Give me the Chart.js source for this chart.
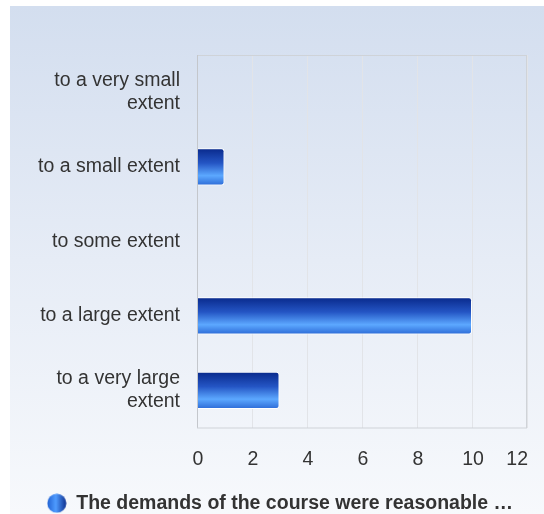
<!DOCTYPE html>
<html>
<head>
<meta charset="utf-8">
<script src="https://cdn.jsdelivr.net/npm/chart.js@4.4.1/dist/chart.umd.min.js"></script>
<style>
  html, body { margin: 0; padding: 0; background: #fff; }
  #wrap {
    position: absolute; left: 10px; top: 6px; width: 534px; height: 508px;
    background: linear-gradient(to bottom, #d3deef 0%, #e6ecf6 50%, #f7f9fc 100%);
  }
  canvas { display: block; }
</style>
</head>
<body>
<div id="wrap"><canvas id="bar-chart" width="534" height="508"></canvas></div>
<script>
/* answer categories and counts */
const categories = [
  ['to a very small', 'extent'],
  'to a small extent',
  'to some extent',
  'to a large extent',
  ['to a very large', 'extent']
];
const counts = [0, 1, 0, 10, 3];
const xTicks = [0, 2, 4, 6, 8, 10, 12];
const seriesLabel = 'The demands of the course were reasonable \u2026';

const FONT = '"Liberation Sans", Arial, sans-serif';
const FSIZE = 19.5;
const BAR_PCT = 0.5;

/* vertical gradient per bar */
function barFill(c) {
  const chart = c.chart;
  if (!chart.chartArea || !chart.scales.y) return '#2a6ad8';
  const y = chart.scales.y.getPixelForValue(c.dataIndex);
  const band = (chart.chartArea.bottom - chart.chartArea.top) / categories.length;
  const h = band * BAR_PCT;
  const g = chart.ctx.createLinearGradient(0, y - h / 2, 0, y + h / 2);
  g.addColorStop(0, '#08288a');
  g.addColorStop(0.4, '#2455c4');
  g.addColorStop(0.74, '#5ca8ff');
  g.addColorStop(1, '#2c6ad6');
  return g;
}

/* small round marker for the legend */
function legendDot() {
  const cv = document.createElement('canvas');
  cv.width = 20; cv.height = 20;
  const c = cv.getContext('2d');
  const g = c.createLinearGradient(0, 0, 20, 0);
  g.addColorStop(0, '#1f5fd0');
  g.addColorStop(0.45, '#4f9cff');
  g.addColorStop(1, '#0a2a8a');
  c.fillStyle = g;
  c.beginPath();
  c.arc(10, 10, 9.5, 0, Math.PI * 2);
  c.fill();
  return cv;
}

/* plot border + x labels (last one kept inside) */
const framePlugin = {
  id: 'frame',
  afterDatasetsDraw(chart) {
    const { ctx, chartArea: a, scales } = chart;
    ctx.save();
    ctx.strokeStyle = '#cfd3d8';
    ctx.lineWidth = 1;
    ctx.strokeRect(a.left + 0.5, a.top + 0.5, a.right - a.left - 1, a.bottom - a.top);
    ctx.strokeStyle = '#c4c7cc';
    ctx.beginPath();
    ctx.moveTo(a.left + 0.5, a.top);
    ctx.lineTo(a.left + 0.5, a.bottom);
    ctx.stroke();

    ctx.fillStyle = '#333';
    ctx.font = FSIZE + 'px ' + FONT;
    ctx.textBaseline = 'middle';
    xTicks.forEach((v, i) => {
      const x = scales.x.getPixelForValue(v);
      const last = i === xTicks.length - 1;
      ctx.textAlign = last ? 'right' : 'center';
      ctx.fillText(String(v), x + 1, a.bottom + 32);
    });
    ctx.restore();
  }
};

new Chart(document.getElementById('bar-chart'), {
  type: 'bar',
  data: {
    labels: categories,
    datasets: [{
      label: seriesLabel,
      data: counts,
      backgroundColor: barFill,
      borderColor: '#ffffff',
      borderWidth: 1,
      borderRadius: 3,
      borderSkipped: 'start',
      barPercentage: BAR_PCT,
      categoryPercentage: 1
    }]
  },
  options: {
    indexAxis: 'y',
    responsive: false,
    animation: false,
    layout: { padding: { top: 49, right: 17, left: 23, bottom: -9 } },
    plugins: {
      tooltip: { enabled: false },
      legend: {
        position: 'bottom',
        labels: {
          usePointStyle: true,
          pointStyle: legendDot(),
          color: '#333',
          padding: 2,
          font: { family: FONT, size: FSIZE, weight: 'bold' }
        }
      }
    },
    scales: {
      x: {
        min: 0,
        max: 12,
        ticks: { stepSize: 2, color: 'rgba(0,0,0,0)', font: { family: FONT, size: FSIZE } },
        grid: { color: '#e2e4e8', drawTicks: false },
        border: { display: false },
        afterFit(s) { s.height = 64; }
      },
      y: {
        ticks: {
          color: '#333',
          padding: 17,
          font: { family: FONT, size: FSIZE, lineHeight: 1.18 }
        },
        grid: { display: false, drawTicks: false },
        border: { display: false },
        afterFit(s) { s.width = 164; }
      }
    }
  },
  plugins: [framePlugin]
});
</script>
</body>
</html>
